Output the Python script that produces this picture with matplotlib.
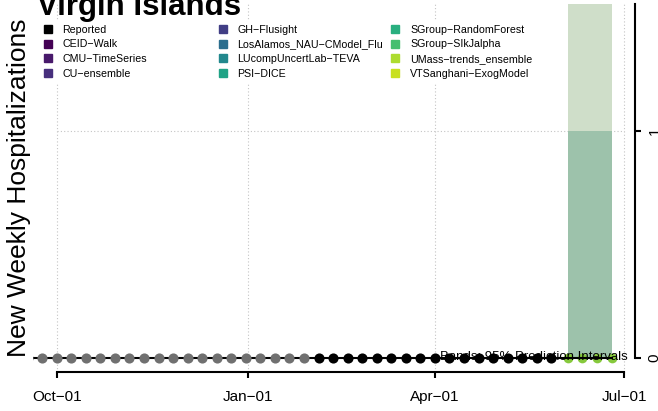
#plot.py
#Weekly hospitalizations chart for the Virgin Islands with forecast band.

import pandas as pd
import matplotlib
matplotlib.use("Agg")
import matplotlib.pyplot as plt
import matplotlib.dates as mdates
from matplotlib.lines import Line2D

plt.rcParams['font.family'] = ['Liberation Sans', 'DejaVu Sans']

#Data
past_dates = pd.date_range('2022-09-17', '2023-01-28', freq='7D')
past_counts = [0, 0, 0, 0, 0, 0, 0, 0, 0, 0, 0, 0, 0, 0, 0, 0, 0, 0, 0, 0]
reported_dates = pd.date_range('2023-02-04', '2023-05-27', freq='7D')
reported_counts = [0, 0, 0, 0, 0, 0, 0, 0, 0, 0, 0, 0, 0, 0, 0, 0, 0]

fc_dates = pd.to_datetime(['2023-06-04', '2023-06-11', '2023-06-18', '2023-06-25'])
fc_median = [0, 0, 0, 0]
fc_lower = [0, 0, 0, 0]
fc_upper_outer = [2, 2, 2, 2]
fc_upper_inner = [1, 1, 1, 1]

tick_dates = pd.to_datetime(['2022-10-01', '2023-01-01', '2023-04-01', '2023-07-01'])
tick_labels = ['Oct\u221201', 'Jan\u221201', 'Apr\u221201', 'Jul\u221201']
y_ticks = [0, 1]
y_tick_labels = ['0', '1']

legend_names = ['Reported', 'CEID\u2212Walk', 'CMU\u2212TimeSeries', 'CU\u2212ensemble',
                'GH\u2212Flusight', 'LosAlamos_NAU\u2212CModel_Flu', 'LUcompUncertLab\u2212TEVA', 'PSI\u2212DICE',
                'SGroup\u2212RandomForest', 'SGroup\u2212SIkJalpha', 'UMass\u2212trends_ensemble', 'VTSanghani\u2212ExogModel']
legend_colors = ['#000000', '#440154', '#48196b', '#472f7d',
                 '#413e85', '#2c6e8e', '#22888d', '#20a386',
                 '#29af7f', '#45bf6f', '#addc30', '#c8e020']

#Figure
fig = plt.figure(figsize=(6.58, 4.11), dpi=100)
W, H = 658, 411
ax = fig.add_axes([33 / W, 1 - 372 / H, (635 - 33) / W, (372 - 4) / H])

tick_num = mdates.date2num(tick_dates)
origin = tick_num[0]
ax.set_xlim(origin - 11.4, origin + 278.3)
ax.set_ylim(-0.0617, 1.559)

#grid
grid_kw = dict(color='#c4c4c4', linestyle=(0, (1, 2)), linewidth=0.8, zorder=0)
for d in tick_num:
    ax.axvline(d, **grid_kw)
ax.hlines(1, tick_num[0], tick_num[-1], **grid_kw)

#prediction bands
ax.fill_between(fc_dates, fc_lower, fc_upper_outer, color='#cfdec9', linewidth=0, zorder=1)
ax.fill_between(fc_dates, fc_lower, fc_upper_inner, color='#9dc2ab', linewidth=0, zorder=1.1)

#points and line
all_dates = list(past_dates) + list(reported_dates) + list(fc_dates)
all_counts = past_counts + reported_counts + fc_median
ax.plot(fc_dates, fc_median, 'o', color='#86c93c', ms=7, mec='none', zorder=2)
ax.plot(all_dates, all_counts, '-', color='black', linewidth=1.5, zorder=3)
ax.plot(past_dates, past_counts, 'o', color='#707070', ms=7.3, mec='none', zorder=4)
ax.plot(reported_dates, reported_counts, 'o', color='black', ms=7.3, mec='none', zorder=4)

#axes
ax.spines['top'].set_visible(False)
ax.spines['left'].set_visible(False)
ax.spines['bottom'].set_bounds(tick_num[0], tick_num[-1])
ax.spines['bottom'].set_linewidth(1.5)
ax.spines['right'].set_bounds(0, 1.559)
ax.spines['right'].set_linewidth(1.5)
ax.set_xticks(tick_num)
ax.set_xticklabels(tick_labels)
ax.yaxis.tick_right()
ax.set_yticks(y_ticks)
ax.set_yticklabels(y_tick_labels, rotation=90, va='center')
ax.tick_params(axis='x', direction='out', length=4, width=1.5, labelsize=11, pad=9)
ax.tick_params(axis='y', direction='out', length=4, width=1.5, labelsize=11, pad=5)

ax.text(0.988, 0.041, 'Bands: 95% Prediction Intervals', transform=ax.transAxes,
        ha='right', va='center', fontsize=9.5, zorder=6)

#legend, three columns
col_x = [38.3, 213.3, 385.8]
for k in range(3):
    names = legend_names[4 * k:4 * k + 4]
    cols = legend_colors[4 * k:4 * k + 4]
    handles = [Line2D([], [], marker='s', ls='none', color=c, ms=6.3) for c in cols]
    leg = ax.legend(handles, names, loc='upper left',
                    bbox_to_anchor=(col_x[k] / W, 1 - 20.5 / H), bbox_transform=fig.transFigure,
                    fontsize=7.7, handlelength=1.0, handletextpad=0.86, labelspacing=0.43,
                    borderpad=0.4, borderaxespad=0, frameon=True, fancybox=False,
                    facecolor='white', edgecolor='none', framealpha=1)
    leg.set_zorder(7)
    ax.add_artist(leg)

fig.text(37 / W, 1 - 15 / H, 'Virgin Islands', fontsize=22.5, fontweight='bold',
         va='baseline', ha='left')
fig.text(19 / W, 1 - 188 / H, 'New Weekly Hospitalizations', rotation=90, fontsize=19,
         va='center', ha='center')

fig.savefig('out.png', dpi=100)
